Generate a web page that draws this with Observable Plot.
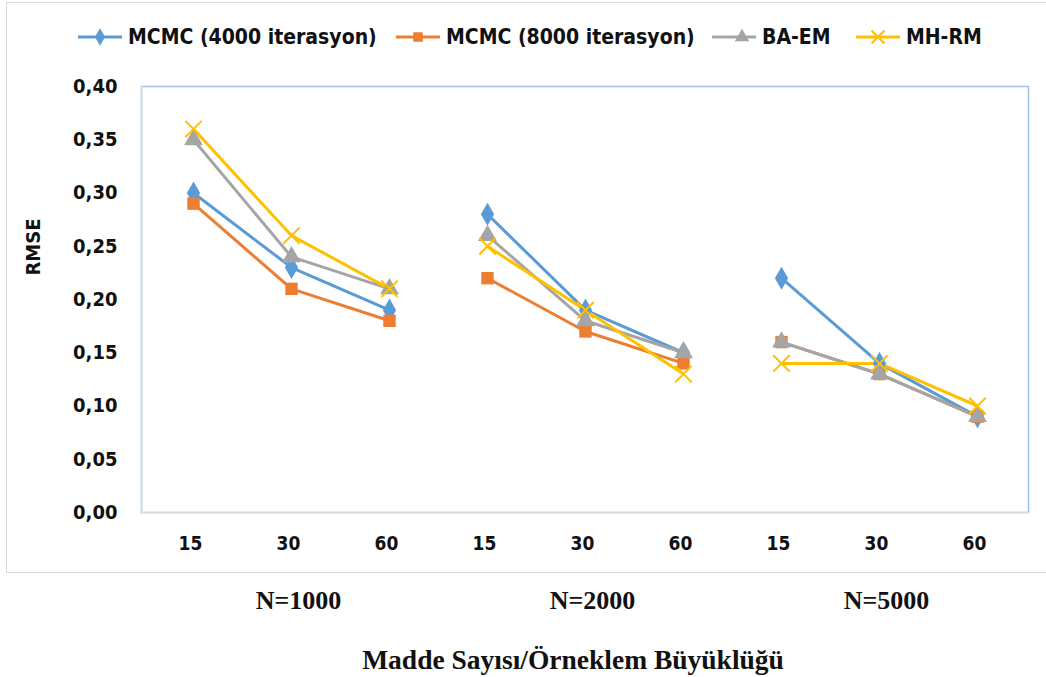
<!DOCTYPE html>
<html>
<head>
<meta charset="utf-8">
<script src="https://cdn.jsdelivr.net/npm/d3@7"></script>
<script src="https://cdn.jsdelivr.net/npm/@observablehq/plot@0.6"></script>
<style>
  html, body { margin: 0; padding: 0; background: #fff; }
  #wrap { position: relative; width: 1046px; height: 677px; overflow: hidden; background: #fff; }
  #outer { position: absolute; left: 6px; top: 2px; width: 1060px; height: 571px; border: 1.5px solid #d9d9d9; box-sizing: border-box; }
  #legend { position: absolute; left: 0; top: 0; width: 1046px; height: 62px; }
  .item { position: absolute; top: 25px; height: 24px; display: flex; align-items: center;
          font-family: "DejaVu Sans Condensed", "DejaVu Sans", sans-serif; font-stretch: condensed;
          font-weight: bold; font-size: 21px; color: #111; white-space: nowrap; }
  .item svg { margin-right: 4px; }
  #chart { position: absolute; left: 0; top: 62px; }
</style>
</head>
<body>
<div id="wrap">
  <div id="outer"></div>
  <div id="legend"></div>
  <div id="chart"></div>
</div>
<script>
// ---- data ----
const groups = ["N=1000", "N=2000", "N=5000"];
const items = [15, 30, 60];
const seriesNames = ["MCMC (4000 iterasyon)", "MCMC (8000 iterasyon)", "BA-EM", "MH-RM"];
const mcmc4000 = [0.30, 0.23, 0.19, 0.28, 0.19, 0.15, 0.22, 0.14, 0.09];
const mcmc8000 = [0.29, 0.21, 0.18, 0.22, 0.17, 0.14, 0.16, 0.13, 0.09];
const baem     = [0.35, 0.24, 0.21, 0.26, 0.18, 0.15, 0.16, 0.13, 0.09];
const mhrm     = [0.36, 0.26, 0.21, 0.25, 0.19, 0.13, 0.14, 0.14, 0.10];
const yTicks = [0, 0.05, 0.10, 0.15, 0.20, 0.25, 0.30, 0.35, 0.40];
const xTitle = "Madde Sayısı/Örneklem Büyüklüğü";
const yTitle = "RMSE";

const colors = ["#5B9BD5", "#ED7D31", "#A5A5A5", "#FFC000"];
const symbols = ["diamond", "square", "triangle", "times"];
const allValues = [mcmc4000, mcmc8000, baem, mhrm];

// ---- table ----
const keys = [];
groups.forEach(g => items.forEach(it => keys.push(g + "|" + it)));
const rows = [];
seriesNames.forEach((s, si) => {
  allValues[si].forEach((v, i) => {
    const g = groups[Math.floor(i / items.length)];
    const it = items[i % items.length];
    rows.push({series: s, group: g, item: it, key: g + "|" + it, value: v});
  });
});
const groupRows = groups.map(g => ({group: g, key: g + "|" + items[1]}));

const sansFont = '"DejaVu Sans Condensed", "DejaVu Sans", sans-serif';
const serifFont = '"Liberation Serif", "DejaVu Serif", serif';

const plot = Plot.plot({
  width: 1046,
  height: 615,
  marginLeft: 141,
  marginRight: 18,
  marginTop: 24,
  marginBottom: 165,
  style: {background: "transparent", fontFamily: sansFont, overflow: "visible"},
  x: {type: "point", domain: keys, padding: 0.5},
  y: {domain: [0, 0.4]},
  color: {domain: seriesNames, range: colors},
  symbol: {domain: seriesNames, range: symbols},
  marks: [
    Plot.frame({stroke: "#9DC3E6", strokeWidth: 1.5}),
    Plot.frame({anchor: "left", stroke: "#d9d9d9", strokeWidth: 1.5}),
    Plot.frame({anchor: "bottom", stroke: "#d9d9d9", strokeWidth: 1.5}),
    Plot.axisY({ticks: yTicks, tickSize: 0, tickPadding: 24, label: null,
      tickFormat: d => d.toFixed(2).replace(".", ","),
      fontSize: 20, fontWeight: "bold", fill: "#111", stroke: null}),
    Plot.axisX({tickSize: 0, tickPadding: 24, label: null,
      tickFormat: k => k.split("|")[1],
      fontSize: 19, fontWeight: "bold", fill: "#111", letterSpacing: 4, dx: -3}),
    ...seriesNames.map((s, si) =>
      Plot.line(rows.filter(d => d.series === s), {
        x: "key", y: "value", z: "group", stroke: colors[si], strokeWidth: 3
      })),
    ...seriesNames.map((s, si) =>
      Plot.dot(rows.filter(d => d.series === s), {
        x: "key", y: "value", symbol: "series",
        r: si === 3 ? 7.5 : 7,
        fill: si === 3 ? "none" : colors[si],
        stroke: si === 3 ? colors[si] : null,
        strokeWidth: 2
      })),
    Plot.text(groupRows, {x: "key", text: "group", frameAnchor: "bottom", dy: 88, dx: 7,
      lineAnchor: "middle", fontFamily: serifFont, fontWeight: "bold", fontSize: 26, fill: "#111"}),
    Plot.text([xTitle], {text: d => d, frameAnchor: "bottom", dy: 148, dx: -12,
      lineAnchor: "middle", fontFamily: serifFont, fontWeight: "bold", fontSize: 27.5, fill: "#111"}),
    Plot.text([yTitle], {text: d => d, frameAnchor: "left", dx: -108, dy: -24, rotate: -90,
      lineAnchor: "middle", fontFamily: sansFont, fontWeight: "bold", fontSize: 20, fill: "#111"})
  ]
});
document.getElementById("chart").appendChild(plot);

// ---- legend ----
const legendLeft = [78, 396, 712, 856];
const legend = d3.select("#legend");
seriesNames.forEach((s, si) => {
  const item = legend.append("div").attr("class", "item").style("left", legendLeft[si] + "px");
  const svg = item.append("svg").attr("width", 46).attr("height", 20);
  svg.append("line").attr("x1", 0).attr("x2", 44).attr("y1", 10).attr("y2", 10)
    .attr("stroke", colors[si]).attr("stroke-width", 3);
  const sym = d3.symbol().type([d3.symbolDiamond, d3.symbolSquare, d3.symbolTriangle, d3.symbolTimes][si])
    .size(si === 3 ? 110 : 90);
  svg.append("path").attr("d", sym()).attr("transform", `translate(${si === 2 ? 30 : 22},10)`)
    .attr("fill", si === 3 ? "none" : colors[si])
    .attr("stroke", si === 3 ? colors[si] : "none").attr("stroke-width", 2);
  item.append("span").text(s);
});
</script>
</body>
</html>
